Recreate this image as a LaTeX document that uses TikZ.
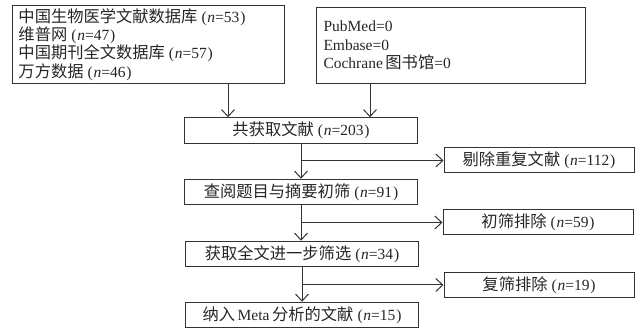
\documentclass[tikz,border=0pt]{standalone}
\usepackage{fontspec}
\setmainfont{Liberation Serif}
\newfontfamily\cjk[Scale=1.05]{Noto Sans CJK SC}
\usetikzlibrary{arrows.meta}
\newcommand{\lp}{\hspace{4pt}(\hspace{0.8pt}}
\newcommand{\rp}{\hspace{0.8pt})\hspace{4pt}}
\newcommand{\nn}{\textit{n}}
\begin{document}
\begin{tikzpicture}[x=1pt,y=-1pt,
  every node/.style={font=\fontsize{15.5}{18.3}\selectfont, text=black!85},
  box/.style={draw=black!80, line width=1pt, inner ysep=0pt},
  mbox/.style={box, minimum width=233pt, minimum height=25.5pt, inner xsep=0pt},
  ebox/.style={box, minimum width=190pt, minimum height=25pt, inner xsep=0pt},
  arr/.style={draw=black!80, line width=1pt, -{Straight Barb[length=7pt,width=13pt,line width=1pt]}}]
\useasboundingbox (0,0) rectangle (641,331);
% source boxes
\node[box, anchor=north west, minimum width=272pt, minimum height=78pt,
      inner xsep=6pt, text width=260pt, align=left] (b1) at (12,5)
  {{\cjk 中国生物医学文献数据库}\lp\nn=53\rp\\
   {\cjk 维普网}\lp\nn=47\rp\\
   {\cjk 中国期刊全文数据库}\lp\nn=57\rp\\
   {\cjk 万方数据}\lp\nn=46\rp};
\node[box, anchor=north west, minimum width=269pt, minimum height=76pt,
      inner xsep=7pt, text width=255pt, align=left] (b2) at (316,7)
  {PubMed=0\\
   Embase=0\\
   Cochrane\,{\cjk 图书馆}=0\\[6pt]};
% main column
\node[mbox] (m1) at (301,130.5) {{\cjk 共获取文献}\lp\nn=203\rp};
\node[mbox] (m2) at (301,192)   {{\cjk 查阅题目与摘要初筛}\lp\nn=91\rp};
\node[mbox] (m3) at (302,254)   {{\cjk 获取全文进一步筛选}\lp\nn=34\rp};
\node[mbox] (m4) at (302,315)   {{\cjk 纳入}\,Meta\,{\cjk 分析的文献}\lp\nn=15\rp};
% exclusion boxes
\node[ebox] (e1) at (539,160.5) {{\cjk 剔除重复文献}\lp\nn=112\rp};
\node[ebox] (e2) at (538,222.5) {{\cjk 初筛排除}\lp\nn=59\rp};
\node[ebox] (e3) at (539,285)   {{\cjk 复筛排除}\lp\nn=19\rp};
% connectors
\path ([xshift=216pt]b1.south west) coordinate (t1);
\path ([xshift=54pt]b2.south west) coordinate (t2);
\draw[arr] (t1) -- (t1 |- m1.north);
\draw[arr] (t2) -- (t2 |- m1.north);
\draw[arr] (m1.south) -- (m1.south |- m2.north);
\draw[arr] (m2.south) -- (m2.south |- m3.north);
\draw[arr] (m3.south) -- (m3.south |- m4.north);
\draw[arr] (m1.south |- e1.west) -- (e1.west);
\draw[arr] (m2.south |- e2.west) -- (e2.west);
\draw[arr] (m3.south |- e3.west) -- (e3.west);
\end{tikzpicture}
\end{document}
